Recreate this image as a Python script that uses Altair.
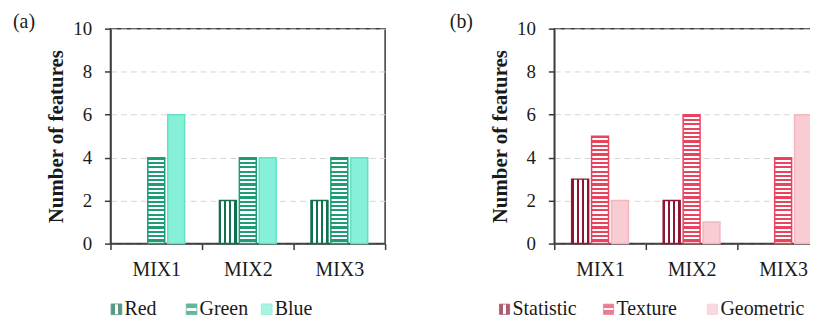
import altair as alt
import pandas as pd

# ---- data ----
cats = ["MIX1", "MIX2", "MIX3"]
y_ticks = [0, 2, 4, 6, 8, 10]

a_series = ["Red", "Green", "Blue"]
a_red = [0, 2, 2]
a_green = [4, 4, 4]
a_blue = [6, 4, 4]

b_series = ["Statistic", "Texture", "Geometric"]
b_statistic = [3, 2, 0]
b_texture = [5, 6, 4]
b_geometric = [2, 1, 6]

# ---- styles ----
a_colors = ["#11704f", "#1d9c77", "#86f0d8"]
a_strokes = ["#11704f", "#1d9c77", "#5fe3c3"]
b_colors = ["#8e1632", "#e9435e", "#f9cbd2"]
b_strokes = ["#8e1632", "#e9435e", "#f4b7c1"]
patterns = ["v", "h", "d"]
bar_offsets = [-20, 0, 20]
FONT = "Liberation Serif"
AXIS_COLOR = "#3a3a3a"
TEXT_COLOR = "#1a1a1a"


def grad(direction, stops):
    g = {"gradient": "linear", "x1": 0, "y1": 0, "x2": 0, "y2": 0, "stops": stops}
    if direction == "x":
        g["x2"] = 1
    else:
        g["y2"] = 1
    return g


def bar_fill(pattern, color, value):
    if pattern == "v":
        bands = [(0, 0.12, color), (0.12, 0.29, "#ffffff"), (0.29, 0.41, color),
                 (0.41, 0.59, "#ffffff"), (0.59, 0.71, color), (0.71, 0.88, "#ffffff"),
                 (0.88, 1.0, color)]
        stops = []
        for a, b, c in bands:
            stops += [{"offset": a, "color": c}, {"offset": b, "color": c}]
        return grad("x", stops)
    if pattern == "h":
        n = int(round(value * 5))
        stops = []
        for i in range(n):
            a = i / n
            m = (i + 0.52) / n
            b = (i + 1) / n
            stops += [{"offset": a, "color": color}, {"offset": m, "color": color},
                      {"offset": m, "color": "#ffffff"}, {"offset": b, "color": "#ffffff"}]
        return grad("y", stops)
    return color


def legend_fill(pattern, color):
    if pattern == "d":
        return color
    stops = [{"offset": 0, "color": color}, {"offset": 0.38, "color": color},
             {"offset": 0.38, "color": "#ffffff"}, {"offset": 0.62, "color": "#ffffff"},
             {"offset": 0.62, "color": color}, {"offset": 1, "color": color}]
    return grad("x" if pattern == "v" else "y", stops)


def panel(letter, series, values, colors, strokes, label_dx, leg_range, leg_size):
    rows = []
    for s, vals in zip(series, values):
        for c, v in zip(cats, vals):
            rows.append({"cat": c, "series": s, "value": v})
    df = pd.DataFrame(rows)

    yaxis = alt.Axis(values=y_ticks, title="Number of features", tickSize=6,
                     labelPadding=13, labelFontSize=19, titleFontSize=21,
                     titleFontWeight="bold", titlePadding=6, grid=True,
                     gridColor="#d6d6d6", gridDash=[6, 4], gridWidth=1)
    xscale = alt.Scale(domain=cats, paddingInner=0, paddingOuter=0)
    xaxis = alt.Axis(title=None, labelAngle=0, tickBand="extent", tickSize=6,
                     labelPadding=10, labelFontSize=20, grid=False)

    layers = []
    for i, s in enumerate(series):
        conds = []
        for c, v in zip(cats, values[i]):
            if v > 0:
                conds.append({"test": f"datum.cat === '{c}'",
                              "value": bar_fill(patterns[i], colors[i], v)})
        layers.append(
            alt.Chart(df).transform_filter(
                f"datum.series === '{s}' && datum.value > 0"
            ).mark_bar(width=17, xOffset=bar_offsets[i], strokeWidth=1.5).encode(
                x=alt.X("cat:N", sort=cats, scale=xscale, axis=xaxis),
                y=alt.Y("value:Q", scale=alt.Scale(domain=[0, 10]), axis=yaxis),
                fill={"condition": conds, "value": colors[i]},
                stroke=alt.value(strokes[i]),
            )
        )

    layers.append(
        alt.Chart(pd.DataFrame({"t": [f"({letter})"]})).mark_text(
            align="left", baseline="middle", fontSize=20, font=FONT, color=TEXT_COLOR
        ).encode(text="t:N", x=alt.value(label_dx), y=alt.value(-7))
    )

    plot = alt.layer(*layers).properties(
        width=276, height=216,
        view=alt.ViewBackground(stroke=AXIS_COLOR, strokeWidth=1.5),
    )

    sconds = [{"test": f"datum.series === '{s}'", "value": strokes[i]}
              for i, s in enumerate(series)]
    lconds = [{"test": f"datum.series === '{s}'", "value": legend_fill(patterns[i], colors[i])}
              for i, s in enumerate(series)]
    ldf = pd.DataFrame({"series": series})
    lbase = alt.Chart(ldf).encode(
        x=alt.X("series:N", sort=series,
                scale=alt.Scale(type="point", domain=series, range=leg_range, padding=0),
                axis=None)
    )
    marker = lbase.mark_square(size=leg_size, strokeWidth=0.8).encode(
        fill={"condition": lconds, "value": "#cccccc"},
        stroke={"condition": sconds, "value": "#999999"},
    )
    text = lbase.mark_text(align="left", baseline="middle", dx=8, fontSize=20, font=FONT,
                           color=TEXT_COLOR).encode(text="series:N")
    legend = alt.layer(marker, text).properties(
        width=150, height=12, view=alt.ViewBackground(stroke="transparent", strokeWidth=0)
    )

    return alt.vconcat(plot, legend, spacing=19)


pa = panel("a", a_series, [a_red, a_green, a_blue], a_colors, a_strokes,
           -98, [6, 157], 115)
pb = panel("b", b_series, [b_statistic, b_texture, b_geometric], b_colors, b_strokes,
           -105, [-50, 159], 105)

# panel (b) runs past the right edge of the figure, as in the reference:
# the negative right padding crops it at the page width.
chart = alt.hconcat(pa, pb, spacing=62).properties(
    padding={"left": 4, "top": 2, "right": -21, "bottom": 0}
).configure_view(
    stroke="transparent", strokeWidth=0
).configure_axis(
    domainColor=AXIS_COLOR, domainWidth=1.5, tickColor=AXIS_COLOR, tickWidth=1.5,
    labelFont=FONT, titleFont=FONT, labelColor=TEXT_COLOR, titleColor=TEXT_COLOR,
)

chart.save("out.html", embed_options={"renderer": "svg", "actions": False})
